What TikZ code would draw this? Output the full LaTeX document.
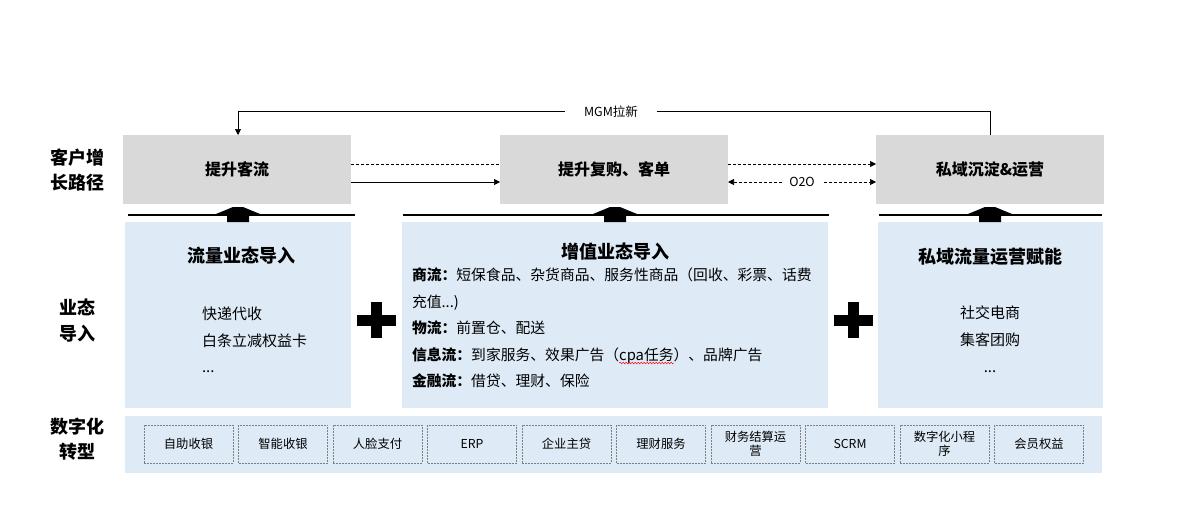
\documentclass[tikz,border=0pt]{standalone}
\usepackage{fontspec}
\setmainfont{Noto Sans CJK SC}
\usetikzlibrary{arrows.meta,decorations.pathmorphing}
\definecolor{grayfill}{HTML}{D9D9D9}
\definecolor{bluefill}{HTML}{DEEBF7}
\definecolor{dashgray}{HTML}{7F7F7F}
\begin{document}
\begin{tikzpicture}[x=1pt,y=-1pt,
  every node/.style={inner sep=0pt, outer sep=0pt},
  graybox/.style={fill=grayfill, minimum width=228pt, minimum height=69pt,
    font=\bfseries\fontsize{16}{18}\selectfont},
  bluebox/.style={fill=bluefill, minimum height=186pt},
  sidelabel/.style={align=center, font=\bfseries\fontsize{18}{25.5}\selectfont},
  boxtitle/.style={font=\bfseries\fontsize{18}{20}\selectfont},
  itemtext/.style={font=\fontsize{15}{18}\selectfont, text height=0.88em, text depth=0.12em},
  linetext/.style={anchor=west, font=\fontsize{14.8}{18}\selectfont, text height=0.88em, text depth=0.12em},
  tagbox/.style={draw=dashgray, dash pattern=on 2pt off 1pt, line width=0.6pt,
    minimum width=89pt, minimum height=38pt, align=center,
    font=\fontsize{12.3}{13.5}\selectfont},
  smalllabel/.style={font=\fontsize{12.5}{14}\selectfont, fill=white},
  tip/.style={-{Triangle[length=6pt,width=6pt]}},
  dashline/.style={dash pattern=on 3pt off 2pt, line width=0.7pt},
  uparr/.pic={\fill[black] (-22,7) -- (-5,0) -- (5,0) -- (22,7) -- (11,7) -- (11,15) -- (-11,15) -- (-11,7) -- cycle;},
  plussign/.pic={\fill[black] (-19.5,-5.5) rectangle (19.5,5.5); \fill[black] (-5.5,-18) rectangle (5.5,18);}
]
\useasboundingbox (0,0) rectangle (1183,520);
\fill[white] (0,0) rectangle (1183,520);

% side labels
\node[sidelabel] (lab1) at (77,170) {客户增\\长路径};
\node[sidelabel] (lab2) at (77,320.5) {业态\\导入};
\node[sidelabel] (lab3) at (77,439) {数字化\\转型};

% gray boxes
\node[graybox] (g1) at (237,169.5) {提升客流};
\node[graybox] (g2) at (614,169.5) {提升复购、客单};
\node[graybox] (g3) at (990,169.5) {私域沉淀\&运营};

% connectors between gray boxes
\draw[dashline] ([yshift=5.5pt]g1.east) -- ([yshift=5.5pt]g2.west);
\draw[tip, line width=0.7pt] ([yshift=-12.5pt]g1.east) -- ([yshift=-12.5pt]g2.west);
\draw[dashline, tip] ([yshift=5.5pt]g2.east) -- ([yshift=5.5pt]g3.west);
\draw[dashline, {Triangle[length=6pt,width=6pt]}-{Triangle[length=6pt,width=6pt]}]
  ([yshift=-12.5pt]g2.east) -- node[smalllabel, inner xsep=7pt, inner ysep=2pt] (o2o) {O2O} ([yshift=-12.5pt]g3.west);

% MGM loop
\coordinate (mgmR) at (990,111);
\coordinate (mgmL) at (238,111);
\draw[tip, line width=0.7pt] (g3.north -| mgmR) -- (mgmR) -- (mgmL) -- (g1.north -| mgmL);
\node[smalllabel, inner xsep=19pt, inner ysep=2pt] (mgm) at (611,111.5) {MGM拉新};

% blue boxes
\node[bluebox, minimum width=226pt] (bA) at (238,315) {};
\node[bluebox, minimum width=426pt] (bB) at (615,315) {};
\node[bluebox, minimum width=225pt] (bC) at (990.5,315) {};

% underlines
\draw[line width=1.2pt] (128,215) -- (355,215);
\draw[line width=1.2pt] (403,215) -- (829,215);
\draw[line width=1.2pt] (879,215) -- (1102,215);

% block arrows
\pic at (238,207) {uparr};
\pic at (615,207) {uparr};
\pic at (990,207) {uparr};

% plus signs
\pic at (376.5,320) {plussign};
\pic at (853,320) {plussign};

% box A content
\node[boxtitle] (tA) at (241,255.5) {流量业态导入};
\node[itemtext, anchor=west] (a1) at (202,316) {快递代收};
\node[itemtext, anchor=west] (a2) at (202,343) {白条立减权益卡};
\node[itemtext, anchor=west] (a3) at (202,369) {...};

% box B content
\node[boxtitle] (tB) at (615,252) {增值业态导入};
\node[linetext] (b1) at (412,277) {\textbf{商流：}短保食品、杂货商品、服务性商品（回收、彩票、话费};
\node[linetext] (b2) at (412,304) {充值...)};
\node[linetext] (b3) at (412,330) {\textbf{物流：}前置仓、配送};
\node[linetext] (b4a) at (412,357) {\textbf{信息流：}到家服务、效果广告（};
\node[linetext] (b4b) at (b4a.east) {cpa任务};
\node[linetext] (b4c) at (b4b.east) {）、品牌广告};
\node[linetext] (b5) at (412,383) {\textbf{金融流：}借贷、理财、保险};
\draw[red, line width=0.5pt, decorate, decoration={snake, amplitude=0.8pt, segment length=3pt}]
  ([yshift=-1pt]b4b.south west) -- ([yshift=-1pt]b4b.south east);

% box C content
\node[boxtitle] (tC) at (990,257) {私域流量运营赋能};
\node[itemtext] (c1) at (990,315) {社交电商};
\node[itemtext] (c2) at (990,342) {集客团购};
\node[itemtext] (c3) at (990,369) {...};

% digital strip
\node[fill=bluefill, minimum width=977pt, minimum height=57pt] (strip) at (613.5,444.5) {};
\node[tagbox] (d1) at (188.5,444) {自助收银};
\node[tagbox] (d2) at (283,444) {智能收银};
\node[tagbox] (d3) at (377.5,444) {人脸支付};
\node[tagbox] (d4) at (472,444) {ERP};
\node[tagbox] (d5) at (566.5,444) {企业主贷};
\node[tagbox] (d6) at (661,444) {理财服务};
\node[tagbox] (d7) at (755.5,444) {财务结算运\\营};
\node[tagbox] (d8) at (850,444) {SCRM};
\node[tagbox] (d9) at (944.5,444) {数字化小程\\序};
\node[tagbox] (d10) at (1039,444) {会员权益};
\end{tikzpicture}
\end{document}
